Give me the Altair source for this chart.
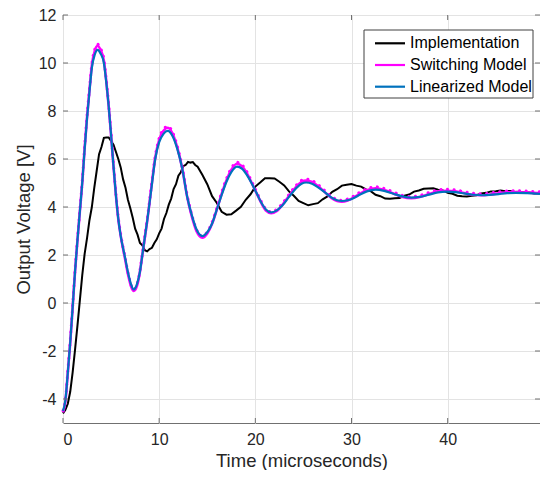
import altair as alt
import pandas as pd

FONT = "Liberation Sans"

series_names = ["Implementation", "Switching Model", "Linearized Model"]
series_colors = ["#000000", "#FF00FF", "#0072BD"]

x_ticks = [0, 10, 20, 30, 40]
y_ticks = [-4, -2, 0, 2, 4, 6, 8, 10, 12]

# Implementation (measured) response
t_impl = [0.0, 0.25, 0.5, 0.75, 1.0, 1.25, 1.5, 1.75, 2.0, 2.25, 2.5, 2.75, 3.0, 3.25, 3.5, 3.75,
          4.0, 4.25, 4.5, 4.75, 5.0, 5.25, 5.5, 5.75, 6.0, 6.25, 6.5, 6.75, 7.0, 7.25, 7.5, 7.75,
          8.0, 8.25, 8.5, 8.75, 9.0, 9.25, 9.5, 9.75, 10.0, 10.25, 10.5, 10.75, 11.0, 11.25, 11.5, 11.75,
          12.0, 12.25, 12.5, 12.75, 13.0, 13.25, 13.5, 13.75,
          14.0, 14.5, 15.0, 15.5, 16.0, 16.5, 17.0, 17.5, 18.0, 18.5, 19.0, 19.5, 20.0, 20.5, 21.0, 21.5,
          22.0, 22.5, 23.0, 23.5, 24.0, 24.5, 25.0, 25.5, 26.0, 26.5, 27.0, 27.5, 28.0, 28.5, 29.0, 29.5,
          30.0, 30.5, 31.0, 31.5, 32.0, 32.5, 33.0, 33.5, 34.0, 34.5, 35.0, 35.5, 36.0, 36.5, 37.0, 37.5,
          38.0, 38.5, 39.0, 39.5, 40.0, 40.5, 41.0, 41.5, 42.0, 42.5, 43.0, 43.5, 44.0, 44.5, 45.0, 45.5,
          46.0, 46.5, 47.0, 47.5, 48.0, 48.5, 49.0, 49.5]
v_impl = [-4.6, -4.45, -4.2, -3.7, -2.9, -1.95, -0.95, 0.1, 1.15, 2.05, 2.7, 3.45, 4.0, 4.8, 5.5, 6.2,
          6.5, 6.88, 6.9, 6.9, 6.75, 6.6, 6.3, 6.0, 5.65, 5.15, 4.8, 4.3, 3.95, 3.55, 3.1, 2.85,
          2.5, 2.4, 2.2, 2.15, 2.25, 2.3, 2.5, 2.65, 2.9, 3.1, 3.5, 3.75, 4.1, 4.35, 4.75, 4.95,
          5.3, 5.45, 5.7, 5.75, 5.88, 5.85, 5.87, 5.75,
          5.68, 5.33, 4.95, 4.45, 4.17, 3.8, 3.68, 3.7, 3.85, 4.01, 4.3, 4.53, 4.85, 5.02, 5.2, 5.2,
          5.19, 5.05, 4.9, 4.65, 4.47, 4.25, 4.16, 4.07, 4.12, 4.16, 4.32, 4.44, 4.63, 4.74, 4.89, 4.93,
          4.96, 4.89, 4.85, 4.73, 4.66, 4.51, 4.45, 4.35, 4.34, 4.36, 4.37, 4.47, 4.52, 4.64, 4.69, 4.76,
          4.77, 4.78, 4.72, 4.69, 4.59, 4.55, 4.47, 4.45, 4.44, 4.47, 4.49, 4.56, 4.59, 4.65, 4.66, 4.69,
          4.66, 4.67, 4.63, 4.64, 4.6, 4.6, 4.56, 4.57]

# Linearized model
t_lin = [0, 0.25, 0.5, 0.75, 1.0, 1.25, 1.5, 1.75, 2.0, 2.25, 2.5, 2.75, 3.0, 3.3, 3.6, 3.9,
         4.25, 4.5, 4.75, 5.0, 5.25, 5.5, 5.75, 6.0, 6.4, 6.8, 7.1, 7.35, 7.7, 8.0, 8.25, 8.5,
         8.77, 9.2, 9.59, 10.0, 10.45, 10.9, 11.4, 11.9, 12.4, 12.9, 13.4, 13.9, 14.49, 15.0, 15.5, 16.0,
         16.5, 17.0, 17.5, 18.09, 18.6, 19.1, 19.6, 20.1, 20.6, 21.1, 21.65, 22.2, 22.8, 23.5, 24.2, 24.8,
         25.28, 25.9, 26.6, 27.2, 27.9, 28.5, 29.0, 29.6, 30.3, 30.9, 31.6, 32.5, 33.4, 34.35, 35.3, 36.2,
         37.1, 38.05, 39.0, 39.9, 40.8, 41.7, 42.6, 43.5, 44.4, 45.3, 46.2, 47.1, 48.3, 49.6]
v_lin = [-4.5, -4.05, -2.9, -1.65, -0.2, 1.3, 2.6, 3.8, 5.0, 6.4, 7.7, 8.8, 9.8, 10.35, 10.55, 10.4,
         10.0, 9.2, 8.2, 7.0, 5.7, 4.5, 3.5, 2.8, 2.0, 1.2, 0.75, 0.57, 0.8, 1.3, 2.0, 2.7,
         3.46, 4.8, 6.0, 6.7, 7.05, 7.17, 6.95, 6.4, 5.6, 4.45, 3.65, 3.05, 2.79, 2.95, 3.3, 3.9,
         4.5, 5.05, 5.45, 5.68, 5.6, 5.35, 5.0, 4.6, 4.2, 3.9, 3.78, 3.85, 4.06, 4.42, 4.76, 4.97,
         5.02, 4.97, 4.80, 4.62, 4.40, 4.28, 4.25, 4.28, 4.39, 4.52, 4.65, 4.72, 4.67, 4.555, 4.44, 4.39,
         4.42, 4.515, 4.61, 4.64, 4.62, 4.565, 4.51, 4.49, 4.505, 4.54, 4.575, 4.59, 4.575, 4.545]

# Switching model (slightly larger excursions, ripple)
t_sw = list(t_lin)
v_sw = [-4.55, -4.1, -2.9, -1.65, -0.2, 1.3, 2.6, 3.8, 5.0, 6.45, 7.75, 8.85, 9.9, 10.5, 10.72, 10.55,
        10.1, 9.25, 8.2, 7.0, 5.7, 4.5, 3.5, 2.8, 1.95, 1.12, 0.66, 0.5, 0.72, 1.3, 2.0, 2.7,
        3.46, 4.85, 6.05, 6.8, 7.18, 7.3, 7.05, 6.45, 5.6, 4.45, 3.6, 2.98, 2.72, 2.9, 3.3, 3.9,
        4.55, 5.12, 5.55, 5.8, 5.7, 5.42, 5.02, 4.6, 4.18, 3.85, 3.74, 3.83, 4.08, 4.46, 4.82, 5.05,
        5.1, 5.04, 4.84, 4.63, 4.38, 4.25, 4.22, 4.27, 4.41, 4.56, 4.7, 4.78, 4.71, 4.56, 4.42, 4.37,
        4.42, 4.54, 4.65, 4.68, 4.65, 4.58, 4.51, 4.49, 4.52, 4.57, 4.61, 4.62, 4.6, 4.57]

df_impl = pd.DataFrame({"t": t_impl, "v": v_impl, "series": series_names[0]})
df_sw = pd.DataFrame({"t": t_sw, "v": v_sw, "series": series_names[1]})
df_lin = pd.DataFrame({"t": t_lin, "v": v_lin, "series": series_names[2]})
df_xt = pd.DataFrame({"t": x_ticks})
df_yt = pd.DataFrame({"v": y_ticks})
df_one = pd.DataFrame({"k": [0]})

W, H = 477, 408
AX = "#707070"

xsc = alt.Scale(domain=[0, 49.6], nice=False, zero=False)
ysc = alt.Scale(domain=[-5, 12], nice=False, zero=False)
csc = alt.Scale(domain=series_names, range=series_colors)

x_axis = alt.Axis(values=x_ticks, title="Time (microseconds)", grid=True, domain=False, ticks=False,
                  labelPadding=8, titlePadding=4, format="d")
y_axis = alt.Axis(values=y_ticks, title="Output Voltage [V]", grid=True, domain=False, ticks=False,
                  labelPadding=7, titlePadding=5, labelExpr="'' + datum.value")
X = alt.X("t:Q", scale=xsc, axis=x_axis)
Y = alt.Y("v:Q", scale=ysc, axis=y_axis)
color = alt.Color("series:N", scale=csc, legend=None)

impl = alt.Chart(df_impl).mark_line(strokeWidth=2).encode(x=X, y=Y, color=color)
sw = alt.Chart(df_sw).mark_line(strokeWidth=2.6, interpolate="monotone").encode(x=X, y=Y, color=color)
sw_dots = alt.Chart(df_sw).mark_line(
    strokeWidth=3, interpolate="monotone", strokeDash=[0.1, 6.5], strokeCap="round",
    yOffset=-1.5, color="#FF00FF").encode(x=X, y=Y)
lin = alt.Chart(df_lin).mark_line(strokeWidth=2.2, interpolate="monotone").encode(x=X, y=Y, color=color)

tick_b = alt.Chart(df_xt).mark_rule(color=AX, strokeWidth=1).encode(x=X, y=alt.value(H), y2=alt.value(H - 5))
tick_t = alt.Chart(df_xt).mark_rule(color=AX, strokeWidth=1).encode(x=X, y=alt.value(0), y2=alt.value(5))
tick_l = alt.Chart(df_yt).mark_rule(color=AX, strokeWidth=1).encode(y=Y, x=alt.value(0), x2=alt.value(5))
tick_r = alt.Chart(df_yt).mark_rule(color=AX, strokeWidth=1).encode(y=Y, x=alt.value(W - 5), x2=alt.value(W))

# legend (drawn inside the plot, top-right)
box = alt.Chart(df_one).mark_rect(fill="white", stroke="#404040", strokeWidth=1).encode(
    x=alt.value(301), x2=alt.value(470), y=alt.value(15), y2=alt.value(83))
legend_layers = [box]
row_y = [28.3, 50.0, 71.7]
for name, col, ry in zip(series_names, series_colors, row_y):
    legend_layers.append(
        alt.Chart(df_one).mark_rule(color=col, strokeWidth=2.2).encode(
            x=alt.value(312), x2=alt.value(342), y=alt.value(ry)))
    legend_layers.append(
        alt.Chart(df_one).mark_text(text=name, align="left", baseline="middle", font=FONT,
                                    fontSize=16, color="#000000").encode(
            x=alt.value(347), y=alt.value(ry)))

chart = alt.layer(impl, sw, sw_dots, lin, tick_b, tick_t, tick_l, tick_r, *legend_layers).properties(
    width=W, height=H,
    autosize=alt.AutoSizeParams(type="none"),
    padding={"left": 55, "top": 7, "right": 0, "bottom": 47},
    background="white",
).configure_view(
    stroke=AX, strokeWidth=1
).configure_axis(
    labelFont=FONT, titleFont=FONT, labelFontSize=16, titleFontSize=18.5,
    labelColor="#262626", titleColor="#262626", titleFontWeight="normal",
    gridColor="#e3e3e3", gridWidth=1,
)

chart.save("out.html", embed_options={"renderer": "svg", "actions": False})
